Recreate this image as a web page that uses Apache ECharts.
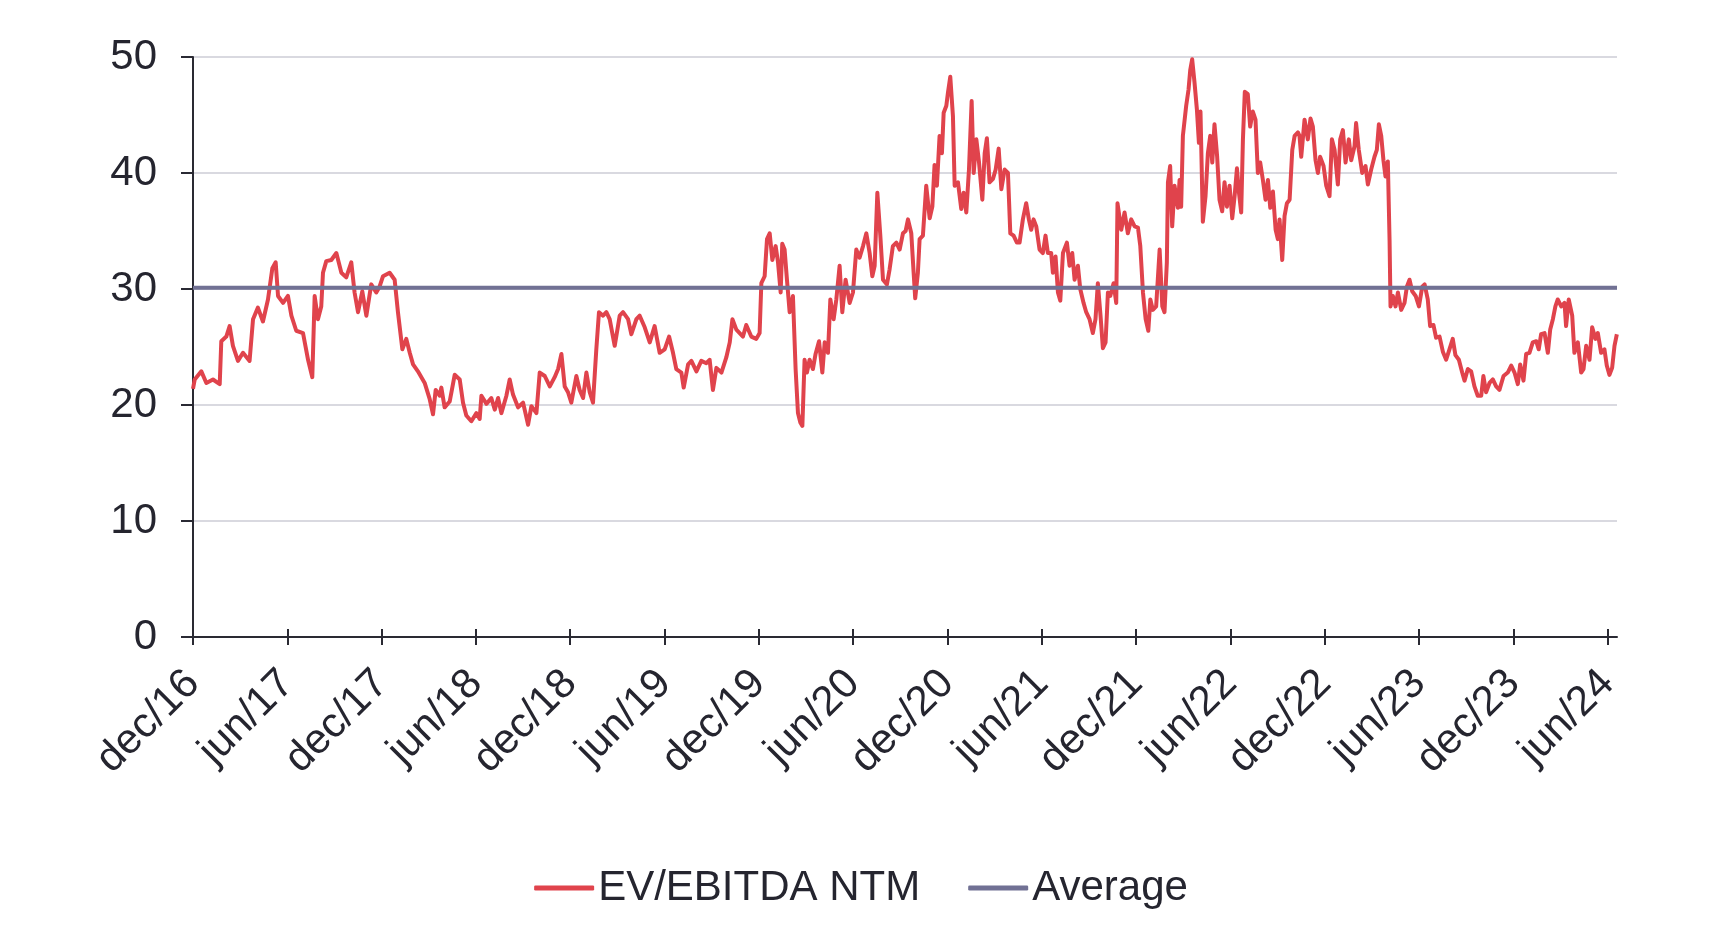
<!DOCTYPE html>
<html>
<head>
<meta charset="utf-8">
<script src="https://cdn.jsdelivr.net/npm/echarts@6/dist/echarts.min.js"></script>
<style>
html,body{margin:0;padding:0;background:#fff;}
#chart{width:1722px;height:936px;}
</style>
</head>
<body>
<div id="chart"></div>
<script>
// x positions are months elapsed since dec/16
const tickLabels = ['dec/16','jun/17','dec/17','jun/18','dec/18','jun/19','dec/19','jun/20','dec/20','jun/21','dec/21','jun/22','dec/22','jun/23','dec/23','jun/24'];
const axisEndMonth = 90.6;
const averageValue = 30.1;

const months1 = [0.00,0.11,0.53,0.85,1.27,1.70,1.80,2.12,2.33,2.54,2.86,3.18,3.60,3.82,4.13,4.45,4.77,5.05,5.26,5.41,5.73,6.04,6.26,6.57,7.00,7.32,7.59,7.74,7.95,8.16,8.27,8.48,8.80,9.12,9.44,9.75,10.07,10.28,10.50,10.77,11.03,11.34,11.66,11.87,12.09,12.51,12.83,13.04,13.32,13.57,13.79,14.00,14.31,14.74,15.06,15.27,15.44,15.69,15.80,16.01,16.33,16.65,16.97];
const ev1 = [21.4,22.2,22.9,21.9,22.2,21.8,25.5,25.9,26.8,25.1,23.8,24.5,23.8,27.4,28.4,27.2,29.1,31.8,32.3,29.4,28.8,29.4,27.7,26.4,26.2,23.9,22.4,29.4,27.4,28.5,31.4,32.4,32.5,33.1,31.4,31.0,32.3,29.7,28.0,29.8,27.7,30.4,29.7,30.2,31.1,31.4,30.8,28.0,24.8,25.7,24.5,23.5,22.9,21.9,20.5,19.2,21.3,20.8,21.5,19.8,20.3,22.6,22.2];

const months2 = [17.18,17.39,17.71,18.03,18.24,18.35,18.67,18.98,19.20,19.41,19.62,19.94,20.15,20.36,20.68,21.00,21.32,21.53,21.85,22.06,22.38,22.70,23.01,23.23,23.44,23.65,23.86,24.07,24.39,24.60,24.82,25.03,25.24,25.45,25.66,25.83,26.09,26.30,26.51,26.83,27.15,27.36,27.68,27.89,28.21,28.42,28.74,29.06,29.37,29.69,30.01,30.29,30.54,30.75,31.07,31.22,31.50,31.71,32.03,32.34,32.66,32.87,33.08,33.30,33.62,33.93,34.15,34.32,34.57];
const ev2 = [20.2,19.1,18.6,19.3,18.8,20.8,20.1,20.6,19.6,20.6,19.3,20.8,22.2,20.9,19.8,20.2,18.3,19.9,19.3,22.8,22.5,21.6,22.4,23.1,24.4,21.6,21.1,20.2,22.5,21.3,20.6,22.8,21.1,20.2,24.8,28.0,27.7,28.0,27.4,25.1,27.7,28.0,27.4,26.1,27.4,27.7,26.7,25.4,26.8,24.5,24.8,25.9,24.5,23.1,22.8,21.5,23.5,23.8,22.9,23.8,23.6,23.9,21.3,23.2,22.8,24.1,25.4,27.4,26.5];

const months3 = [34.78,34.99,35.20,35.52,35.84,36.05,36.16,36.37,36.52,36.69,36.86,37.07,37.22,37.39,37.49,37.64,37.79,37.96,38.17,38.34,38.49,38.64,38.77,38.91,39.06,39.23,39.44,39.61,39.83,40.04,40.19,40.40,40.55,40.76,40.93,41.14,41.31,41.52,41.78,41.99,42.20,42.41,42.63,42.84,43.05,43.22,43.37,43.54,43.73,43.90,44.15,44.32,44.53,44.75,44.96,45.17,45.34,45.49,45.70,45.85,45.95,46.12,46.23,46.44,46.65,46.87,47.04,47.18,47.33,47.50,47.65,47.76,47.93,48.03,48.18,48.35,48.46,48.67,48.88,49.03,49.20,49.37,49.54,49.67,49.84,50.01,50.22,50.37,50.51,50.68,50.90,51.07,51.26,51.43,51.64,51.85,52.00,52.21,52.42];
const ev3 = [26.2,25.9,26.9,25.9,25.7,26.2,30.5,31.1,34.3,34.8,32.5,33.7,32.3,29.7,33.9,33.4,30.8,28.0,29.4,23.1,19.3,18.5,18.2,23.9,22.8,23.9,23.1,24.4,25.5,22.8,25.4,24.5,29.1,27.4,29.1,32.0,28.0,30.8,28.8,29.7,33.4,32.7,33.7,34.8,33.1,31.1,32.0,38.3,34.6,30.8,30.4,31.7,33.7,34.0,33.4,34.8,35.0,36.0,34.8,31.4,29.2,31.4,34.3,34.6,38.9,36.1,37.1,40.7,38.9,43.2,41.7,45.2,45.8,46.9,48.3,44.9,38.9,39.2,36.9,38.3,36.6,40.3,46.2,40.0,42.9,40.9,37.7,41.7,43.0,39.2,39.5,40.3,42.1,38.6,40.3,40.0,34.8,34.6,34.0];

const months4 = [52.59,52.80,53.01,53.18,53.33,53.48,53.65,53.86,54.07,54.24,54.39,54.60,54.71,54.88,55.03,55.18,55.35,55.60,55.77,55.94,56.09,56.30,56.45,56.66,56.83,57.04,57.25,57.42,57.57,57.74,57.89,58.06,58.21,58.36,58.57,58.74,58.82,59.06,59.27,59.48,59.69,59.91,60.12,60.27,60.44,60.61,60.78,60.91,61.07,61.28,61.50,61.67,61.81,61.96,62.03,62.17,62.30,62.45,62.66,62.77,62.87,62.98,63.19,63.34,63.45,63.57,63.72,63.87,64.00,64.10,64.25,64.42,64.57,64.72,64.85,64.99,65.16,65.31,65.48,65.63,65.78,65.95,66.12,66.27,66.42,66.54,66.69,66.80,66.92,67.11,67.26,67.43,67.60,67.75,67.90,68.07,68.24,68.39,68.54,68.71,68.88,69.02,69.13,69.30,69.45,69.60,69.77,69.94,70.09,70.30];
const ev4 = [34.0,36.0,37.4,36.0,35.1,36.0,35.4,33.4,33.1,34.6,33.1,33.1,31.4,32.8,29.7,29.0,33.1,34.0,32.0,33.1,30.8,32.0,30.0,28.8,28.0,27.4,26.2,27.4,30.5,27.7,24.9,25.4,29.7,29.4,30.5,28.8,37.4,35.1,36.6,34.8,36.0,35.4,35.3,33.7,29.7,27.4,26.4,29.1,28.2,28.5,33.4,28.5,28.0,32.3,39.2,40.6,35.4,38.9,37.0,39.4,37.1,43.2,45.8,47.2,48.9,49.8,47.8,45.5,42.6,45.3,35.8,38.0,41.7,43.2,40.9,44.2,41.4,37.7,36.7,39.2,37.1,38.9,36.1,38.0,40.4,38.4,36.6,42.9,47.0,46.8,44.0,45.3,44.6,40.0,40.9,39.4,37.7,39.4,37.0,38.4,35.1,34.3,36.0,32.5,36.3,37.4,37.7,42.0,43.2,43.5];

const months5 = [70.40,70.51,70.72,70.93,71.10,71.25,71.42,71.57,71.71,71.93,72.10,72.31,72.46,72.63,72.84,72.99,73.16,73.33,73.54,73.69,73.90,74.00,74.17,74.39,74.60,74.75,74.96,75.17,75.32,75.45,75.60,75.74,75.87,76.02,76.13,76.19,76.34,76.51,76.66,76.87,77.08,77.23,77.40,77.57,77.79,78.00,78.21,78.36,78.56,78.71,78.92,79.09,79.31,79.52,79.73,79.94,80.15,80.32,80.54,80.75,80.90,81.11,81.32,81.53,81.74,81.96,82.10,82.27,82.49,82.70,82.91,83.12,83.38,83.65,83.87,84.08,84.29,84.44,84.65,84.82,85.03,85.24,85.46,85.62,85.77,85.99,86.20,86.35,86.52,86.68,86.83,87.05,87.26,87.36,87.53,87.75,87.89,88.11,88.32,88.47,88.64,88.85,89.02,89.23,89.38,89.59,89.80,89.95,90.12,90.29,90.44,90.59];
const ev5 = [43.2,41.4,44.6,42.9,44.7,44.0,41.1,40.0,41.4,40.6,38.9,38.0,42.9,42.0,39.0,42.9,43.7,40.9,42.9,41.1,42.3,44.3,42.0,40.0,40.6,39.0,40.3,41.4,42.0,44.2,43.2,41.1,39.7,41.0,34.2,28.5,29.4,28.5,29.7,28.2,28.8,30.2,30.8,29.8,29.4,28.5,30.2,30.4,29.1,26.8,26.9,25.8,25.9,24.6,23.9,24.8,25.7,24.3,23.9,22.8,22.1,23.1,22.9,21.6,20.8,20.8,22.5,21.1,21.9,22.2,21.6,21.3,22.5,22.8,23.4,22.8,21.8,23.5,22.1,24.4,24.5,25.4,25.5,24.8,26.1,26.2,24.5,26.5,27.4,28.5,29.1,28.5,28.8,26.8,29.1,27.7,24.5,25.4,22.8,23.1,25.1,23.9,26.7,25.7,26.2,24.5,24.8,23.4,22.6,23.2,25.1,26.1];

const allMonths = months1.concat(months2, months3, months4, months5);
const allEv = ev1.concat(ev2, ev3, ev4, ev5);
const evData = allMonths.map((m, i) => [m, allEv[i]]);
const avgData = [[0, averageValue], [axisEndMonth, averageValue]];
const tickMonths = tickLabels.map((_, i) => i * 6);

const FONT = '"Liberation Sans", Arial, Helvetica, sans-serif';
const TEXT = '#25252f';
const AXIS = '#2a2a33';

const chart = echarts.init(document.getElementById('chart'), null, {renderer: 'canvas'});
chart.setOption({
  animation: false,
  backgroundColor: '#ffffff',
  grid: {left: 193, right: 105, top: 57, bottom: 299, containLabel: false},
  legend: {
    bottom: 22,
    left: 'center',
    itemWidth: 60,
    itemHeight: 5,
    itemGap: 48,
    icon: 'roundRect',
    textStyle: {fontFamily: FONT, fontSize: 42, color: TEXT, padding: [0, 0, 0, -1]},
    data: ['EV/EBITDA NTM', 'Average']
  },
  xAxis: [{
    type: 'value',
    min: 0,
    max: axisEndMonth,
    interval: 6,
    splitLine: {show: false},
    axisLine: {show: true, onZero: false, lineStyle: {color: AXIS, width: 2}},
    axisTick: {show: true, customValues: tickMonths, length: 8, lineStyle: {color: AXIS, width: 2}},
    axisLabel: {
      show: true,
      customValues: tickMonths,
      rotate: 45,
      margin: 40,
      fontFamily: FONT,
      fontSize: 42,
      color: TEXT,
      formatter: (v) => tickLabels[Math.round(v / 6)] || ''
    }
  }, {
    type: 'value',
    position: 'bottom',
    min: 0,
    max: axisEndMonth,
    interval: 6,
    splitLine: {show: false},
    axisLine: {show: false},
    axisLabel: {show: false},
    axisTick: {show: true, inside: true, customValues: tickMonths, length: 8, lineStyle: {color: AXIS, width: 2}}
  }],
  yAxis: {
    type: 'value',
    min: 0,
    max: 50,
    interval: 10,
    axisLine: {show: true, lineStyle: {color: AXIS, width: 2}},
    axisTick: {show: true, length: 12, lineStyle: {color: AXIS, width: 2}},
    splitLine: {show: true, lineStyle: {color: '#d9d9e0', width: 2}},
    axisLabel: {margin: 36, fontFamily: FONT, fontSize: 42, color: TEXT}
  },
  series: [{
    name: 'EV/EBITDA NTM',
    type: 'line',
    data: evData,
    showSymbol: false,
    symbol: 'none',
    color: '#e0434c',
    lineStyle: {color: '#e0434c', width: 4, join: 'round'},
    z: 2
  }, {
    name: 'Average',
    type: 'line',
    data: avgData,
    showSymbol: false,
    symbol: 'none',
    color: '#717194',
    lineStyle: {color: '#717194', width: 4},
    z: 3
  }]
});
</script>
</body>
</html>
